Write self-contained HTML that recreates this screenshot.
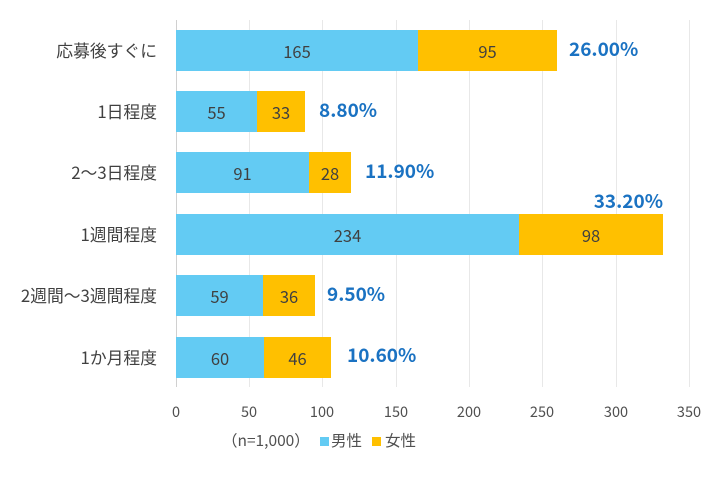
<!DOCTYPE html>
<html><head><meta charset="utf-8"><style>
body{margin:0;width:720px;height:477px;background:#fff;position:relative;overflow:hidden;font-family:"Noto Sans CJK JP","Liberation Sans",sans-serif;}
.g{position:absolute;top:20px;height:367px;width:1px;background:#e8e8e8;}
.b{position:absolute;height:41px;display:flex;align-items:center;justify-content:center;font-size:16.5px;color:#404040;}
.m{background:#63CBF3;}.f{background:#FFC000;}
.l{position:absolute;right:563px;font-size:16.8px;color:#404040;white-space:nowrap;line-height:20px;}
.p{position:absolute;font-size:19px;font-weight:bold;color:#1a72c2;line-height:22px;white-space:nowrap;}
.t{position:absolute;top:401px;font-size:14.5px;color:#505050;width:40px;margin-left:-20px;text-align:center;}
</style></head><body>
<div class="g" style="left:176px;background:#d0d0d0"></div>
<div class="g" style="left:249px"></div><div class="g" style="left:322px"></div><div class="g" style="left:396px"></div><div class="g" style="left:469px"></div><div class="g" style="left:542px"></div><div class="g" style="left:616px"></div><div class="g" style="left:689px"></div>

<div class="l" style="top:40px">応募後すぐに</div>
<div class="b m" style="left:176px;top:30px;width:242px">165</div><div class="b f" style="left:418px;top:30px;width:139px">95</div>
<div class="p" style="left:569px;top:38px">26.00%</div>

<div class="l" style="top:101px">1日程度</div>
<div class="b m" style="left:176px;top:91px;width:81px">55</div><div class="b f" style="left:257px;top:91px;width:48px">33</div>
<div class="p" style="left:319px;top:99px">8.80%</div>

<div class="l" style="top:162px">2〜3日程度</div>
<div class="b m" style="left:176px;top:152px;width:133px">91</div><div class="b f" style="left:309px;top:152px;width:42px">28</div>
<div class="p" style="left:365px;top:160px">11.90%</div>

<div class="l" style="top:224px">1週間程度</div>
<div class="b m" style="left:176px;top:214px;width:343px">234</div><div class="b f" style="left:519px;top:214px;width:144px">98</div>
<div class="p" style="right:57px;top:190px">33.20%</div>

<div class="l" style="top:285px">2週間〜3週間程度</div>
<div class="b m" style="left:176px;top:275px;width:87px">59</div><div class="b f" style="left:263px;top:275px;width:52px">36</div>
<div class="p" style="left:327px;top:283px">9.50%</div>

<div class="l" style="top:347px">1か月程度</div>
<div class="b m" style="left:176px;top:337px;width:88px">60</div><div class="b f" style="left:264px;top:337px;width:67px">46</div>
<div class="p" style="left:347px;top:344px">10.60%</div>

<div class="t" style="left:176px">0</div><div class="t" style="left:249px">50</div><div class="t" style="left:322px">100</div><div class="t" style="left:396px">150</div><div class="t" style="left:469px">200</div><div class="t" style="left:542px">250</div><div class="t" style="left:616px">300</div><div class="t" style="left:689px">350</div>

<div style="position:absolute;left:222px;top:429px;font-size:15.5px;color:#505050;white-space:nowrap">（n=1,000）</div>
<div style="position:absolute;left:320px;top:437px;width:9px;height:9px;background:#63CBF3"></div>
<div style="position:absolute;left:331px;top:429px;font-size:15.5px;color:#505050">男性</div>
<div style="position:absolute;left:372px;top:437px;width:9px;height:9px;background:#FFC000"></div>
<div style="position:absolute;left:385px;top:429px;font-size:15.5px;color:#505050">女性</div>
</body></html>
